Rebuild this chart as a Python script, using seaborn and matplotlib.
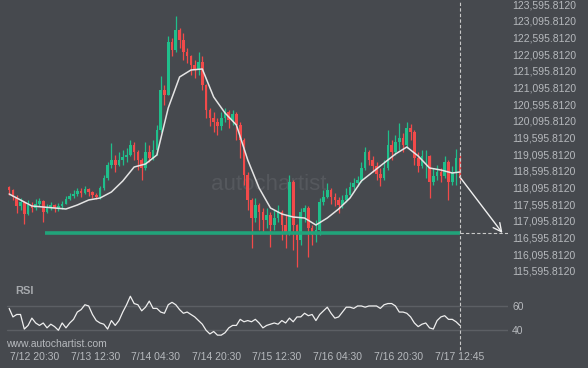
import matplotlib
matplotlib.use("Agg")
import matplotlib.pyplot as plt
import matplotlib.dates as mdates
import matplotlib.transforms as mtransforms
import numpy as np
import pandas as pd
import seaborn as sns

# ── data (hourly candles, 7/12 13:45 .. 7/17 12:45) ─────────────────────────
candle_start = "2025-07-12 13:45"
first_open = 118115

closes = [
    118025, 117815, 117545, 117665, 117305, 117575, 117485, 117605, 117695, 117365,
    117515, 117575, 117485, 117545, 117605, 117755, 117845, 117905, 117995, 117935,
    118055, 117965, 117875, 117815, 118085, 118385, 118775, 118925, 118775, 118925,
    119015, 119075, 119375, 119165, 118925, 118685, 119165, 118985, 119225, 119825,
    121025, 120875, 122465, 122225, 122825, 122525, 122165, 122045, 121775, 121625,
    121865, 121175, 120425, 120185, 120065, 119945, 120185, 120365, 120125, 120305,
    119975, 119525, 118475, 117725, 117185, 117575, 117365, 117125, 117275, 116975,
    117185, 117365, 116975, 116735, 118265, 116975, 116525, 117365, 117485, 116885,
    116675, 116825, 117665, 117815, 118025, 117815, 117725, 117575, 117725, 117875,
    118115, 118235, 118325, 118685, 119165, 118925, 118745, 118505, 118385, 118685,
    119375, 119165, 119465, 119585, 119375, 119885, 119765, 118985, 118745, 119045,
    119045, 118265, 118445, 118565, 118445, 118865, 118265, 118565, 118985, 118415,
]
highs = [
    118145, 118055, 117875, 117785, 117695, 117725, 117665, 117755, 117785, 117725,
    117605, 117665, 117605, 117635, 117695, 117845, 117935, 118025, 118085, 118085,
    118145, 118085, 117995, 117935, 118145, 118475, 118865, 119435, 119075, 119165,
    119225, 119285, 119525, 119465, 119225, 118985, 119465, 119375, 119525, 119975,
    121445, 121175, 122645, 122585, 123245, 122885, 122735, 122285, 122075, 121925,
    122165, 122045, 121205, 120485, 120365, 120185, 120365, 120485, 120425, 120425,
    120365, 120065, 119585, 118565, 117785, 117785, 117635, 117485, 117485, 117365,
    117425, 117575, 117425, 117275, 118475, 118325, 117005, 117485, 117575, 117545,
    116975, 117125, 117785, 118025, 118235, 118085, 117935, 117815, 117875, 118085,
    118265, 118385, 118445, 118865, 119315, 119225, 119045, 118865, 118685, 118925,
    119825, 119525, 119675, 120035, 119735, 120065, 120005, 119825, 119165, 119225,
    119225, 119075, 118685, 118775, 118685, 119045, 118925, 118745, 119255, 119075,
]
lows = [
    117875, 117725, 117335, 117425, 117005, 117275, 117365, 117425, 117545, 117065,
    117335, 117425, 117365, 117395, 117455, 117605, 117725, 117785, 117845, 117815,
    117905, 117845, 117785, 117755, 117755, 118025, 118325, 118685, 118565, 118745,
    118775, 118865, 119045, 118925, 118625, 118325, 118625, 118865, 118925, 119075,
    119765, 120575, 120875, 122045, 122165, 122285, 121925, 121835, 121475, 121385,
    121475, 121025, 120185, 119945, 119765, 119675, 119825, 120065, 119885, 119975,
    119525, 118985, 118175, 117425, 116285, 117065, 116825, 116765, 116885, 116315,
    116825, 117065, 116525, 116285, 116675, 116225, 115715, 116375, 117065, 116015,
    116375, 116465, 116675, 117575, 117785, 117605, 117545, 117335, 117485, 117665,
    117875, 118025, 118145, 118265, 118625, 118775, 118565, 118325, 118145, 118325,
    118625, 118925, 119075, 119225, 119165, 119285, 119525, 118775, 118565, 118685,
    118385, 117785, 118175, 118325, 118265, 118385, 117725, 118175, 118175, 118325,
]

# moving average, sampled every few candles
ma_idx = [0, 3, 6, 9, 12, 15, 18, 21, 24, 27, 30, 33, 36, 39, 42, 45, 48, 51, 54, 57,
          60, 63, 66, 69, 72, 75, 78, 81, 84, 87, 90, 93, 96, 99, 102, 105, 108, 111,
          114, 117, 119]
ma_vals = [117905, 117725, 117545, 117515, 117485, 117455, 117575, 117725, 117785, 117965,
           118295, 118715, 118805, 119075, 120485, 121415, 121625, 121655, 120815, 120335,
           119975, 118925, 118085, 117485, 117305, 117215, 117185, 116975, 117185, 117455,
           117785, 118295, 118565, 118835, 119105, 119315, 119045, 118685, 118625, 118535,
           118565]

rsi_vals = [
    58, 51, 53, 53, 41, 44, 50, 46, 44, 46, 42, 45, 43, 40, 46, 42, 46, 49, 55, 57,
    61, 60, 53, 48, 46, 45, 41, 48, 44, 48, 55, 61, 68, 62, 61, 56, 59, 64, 58, 58,
    55, 54, 61, 63, 61, 57, 54, 55, 53, 51, 48, 45, 40, 37, 39, 36, 36, 38, 42, 44,
    44, 49, 47, 48, 47, 49, 46, 42, 44, 45, 46, 45, 48, 46, 50, 47, 51, 51, 54, 52,
    53, 48, 53, 56, 59, 54, 50, 51, 55, 59, 59, 58, 60, 60, 59, 60, 60, 60, 58, 61,
    62, 62, 60, 55, 55, 54, 51, 46, 43, 45, 46, 42, 41, 48, 51, 52, 49, 49, 47, 44,
]

level_price = 116735
level_start = "2025-07-12 23:15"
target_time = "2025-07-18 00:00"

price_ticks = [115595.812, 116095.812, 116595.812, 117095.812, 117595.812, 118095.812,
               118595.812, 119095.812, 119595.812, 120095.812, 120595.812, 121095.812,
               121595.812, 122095.812, 122595.812, 123095.812, 123595.812]
date_ticks = ["2025-07-12 20:30", "2025-07-13 12:30", "2025-07-14 04:30", "2025-07-14 20:30",
              "2025-07-15 12:30", "2025-07-16 04:30", "2025-07-16 20:30", "2025-07-17 12:45"]
date_labels = ["7/12 20:30", "7/13 12:30", "7/14 04:30", "7/14 20:30",
               "7/15 12:30", "7/16 04:30", "7/16 20:30", "7/17 12:45"]

# ── style ───────────────────────────────────────────────────────────────────
BG = "#46494e"
GREEN = "#1fbf8b"
RED = "#f24a4a"
LEVEL = "#21a37a"
TXT = "#b6b9bd"

sns.set_theme(style="dark")
plt.rcParams["font.family"] = ["Liberation Sans", "DejaVu Sans"]

W, H = 588, 368
fig = plt.figure(figsize=(W / 100, H / 100), dpi=100, facecolor=BG)
ax = fig.add_axes([0, 1 - 275 / H, 508 / W, 275 / H])
rax = fig.add_axes([0, 1 - 340 / H, 508 / W, 57 / H], sharex=ax)

times = pd.date_range(candle_start, periods=len(closes), freq="h")
c = np.array(closes, dtype=float)
o = np.array([first_open] + closes[:-1], dtype=float)
colors = np.where(c >= o, GREEN, RED)

# ── candles ──────────────────────────────────────────────────────────────
ax.vlines(times, lows, highs, colors=colors, lw=0.9, zorder=2)
ax.bar(times, np.maximum(np.abs(c - o), 12), bottom=np.minimum(o, c),
       width=0.7 / 24, color=colors, lw=0, zorder=2)

sns.lineplot(x=times[ma_idx], y=ma_vals, ax=ax, color="#e4e4e4", lw=1.1, zorder=3)

last_t = times[-1]
ax.hlines(level_price, pd.Timestamp(level_start), last_t, color=LEVEL, lw=2.6, zorder=4)
ax.hlines(level_price, last_t, pd.Timestamp("2025-07-18 01:28"), color="#c9c9c9",
          lw=0.8, ls=(0, (3, 2)), zorder=4)
ax.annotate("", xy=(mdates.date2num(pd.Timestamp(target_time)), level_price),
            xytext=(mdates.date2num(last_t), closes[-1]),
            arrowprops=dict(arrowstyle="->,head_length=0.5,head_width=0.25",
                            color="#f0f0f0", lw=1.0, shrinkA=0, shrinkB=0), zorder=5)

ax.text(0.53, 0.33, "autochartist", transform=ax.transAxes, ha="center", va="center",
        fontsize=16, color="#55585d", zorder=1)

# ── RSI ─────────────────────────────────────────────────────────────────
for lvl in (40, 60):
    rax.axhline(lvl, xmin=7 / 508, xmax=1, color="#5c5f64", lw=1, zorder=1)
sns.lineplot(x=times, y=rsi_vals, ax=rax, color="#eeeeee", lw=0.9, zorder=3)

# ── axes cosmetics ──────────────────────────────────────────────────────────
xlim = (pd.Timestamp("2025-07-12 11:20"), pd.Timestamp("2025-07-18 01:28"))
for a in (ax, rax):
    a.set_facecolor(BG)
    for s in a.spines.values():
        s.set_visible(False)
    a.grid(False)
    a.set_xlabel("")
    a.set_ylabel("")
    a.yaxis.tick_right()
    a.tick_params(axis="y", length=0, pad=3, labelsize=7.5, labelcolor=TXT)
ax.set_xlim(*xlim)
ax.set_ylim(115475, 123725)
ax.set_yticks(price_ticks)
ax.set_yticklabels([f"{v:,.4f}" for v in price_ticks])
ax.tick_params(axis="x", length=0, labelbottom=False)

rax.set_ylim(32, 78.9)
rax.set_yticks([40, 60])
rax.set_yticklabels(["40", "60"])
rax.set_xticks(pd.to_datetime(date_ticks))
rax.set_xticklabels(date_labels)
rax.tick_params(axis="x", length=0, pad=9, labelsize=7.5, labelcolor=TXT)

fig.text(15 / W, 1 - 291 / H, "RSI", fontsize=8, fontweight="bold", color="#a6a9ad",
         va="center", ha="left")
fig.text(6 / W, 1 - 344 / H, "www.autochartist.com", fontsize=7.5, color=TXT,
         va="center", ha="left")

# dashed marker at the last candle, running through both panels
blend = mtransforms.blended_transform_factory(ax.transData, fig.transFigure)
fig.add_artist(plt.Line2D([mdates.date2num(last_t)] * 2, [1 - 350 / H, 1], transform=blend,
                          color="#c9c9c9", lw=0.8, ls=(0, (3, 2)), zorder=6))

fig.savefig("out.png", dpi=100, facecolor=BG)
